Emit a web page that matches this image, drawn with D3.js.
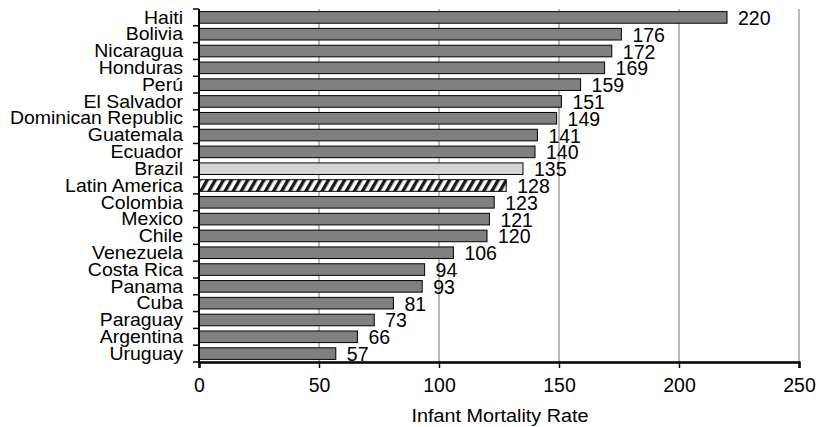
<!DOCTYPE html>
<html>
<head>
<meta charset="utf-8">
<script src="https://cdn.jsdelivr.net/npm/d3@7"></script>
<style>
  body { margin: 0; background: #fff; }
  svg { font-family: "Liberation Sans", Arial, Helvetica, sans-serif; }
</style>
</head>
<body>
<svg id="chart"></svg>
<script>
// Data
var countries = ["Haiti", "Bolivia", "Nicaragua", "Honduras", "Perú", "El Salvador",
  "Dominican Republic", "Guatemala", "Ecuador", "Brazil", "Latin America", "Colombia",
  "Mexico", "Chile", "Venezuela", "Costa Rica", "Panama", "Cuba", "Paraguay",
  "Argentina", "Uruguay"];
var rates = [220, 176, 172, 169, 159, 151, 149, 141, 140, 135, 128, 123, 121, 120,
  106, 94, 93, 81, 73, 66, 57];
var xTicks = [0, 50, 100, 150, 200, 250];

var data = countries.map(function(c, i) { return { name: c, value: rates[i] }; });

var fontSize = "19.5px";

var margin = { top: 9, right: 22, bottom: 65, left: 199 },
    width = 821 - margin.left - margin.right,
    height = 427 - margin.top - margin.bottom;

var root = d3.select("#chart")
    .attr("width", 821)
    .attr("height", 427);

// hatch pattern for Latin America
var defs = root.append("defs");
var pat = defs.append("pattern")
    .attr("id", "hatch")
    .attr("patternUnits", "userSpaceOnUse")
    .attr("width", 7)
    .attr("height", 7)
    .attr("patternTransform", "rotate(30)");
pat.append("rect").attr("width", 7).attr("height", 7).attr("fill", "#fff");
pat.append("rect").attr("width", 3.4).attr("height", 7).attr("fill", "#1a1a1a");

var svg = root.append("g")
    .attr("transform", "translate(" + margin.left + "," + margin.top + ")");

var x = d3.scaleLinear()
    .domain([0, 250])
    .range([0, width]);

var y = d3.scaleBand()
    .domain(countries)
    .range([0, height])
    .paddingInner(0.31)
    .paddingOuter(0.155);

// gridlines
svg.selectAll(".grid")
    .data(xTicks.slice(1))
    .enter().append("line")
    .attr("x1", function(d) { return x(d); })
    .attr("x2", function(d) { return x(d); })
    .attr("y1", 0)
    .attr("y2", height)
    .style("stroke", "#8c8c8c")
    .style("stroke-width", 1.2);

// bars
svg.selectAll(".bar")
    .data(data)
    .enter().append("rect")
    .attr("x", x(0))
    .attr("y", function(d) { return y(d.name); })
    .attr("width", function(d) { return x(d.value) - x(0); })
    .attr("height", y.bandwidth())
    .style("fill", function(d) {
        if (d.name === "Brazil") return "#d4d4d4";
        if (d.name === "Latin America") return "url(#hatch)";
        return "#808080";
    })
    .style("stroke", "#000")
    .style("stroke-width", 1);

// value labels
svg.selectAll(".val")
    .data(data)
    .enter().append("text")
    .attr("x", function(d) { return x(d.value) + 11; })
    .attr("y", function(d) { return y(d.name) + y.bandwidth() / 2 + 7.5; })
    .style("font-size", fontSize)
    .style("fill", "#000")
    .text(function(d) { return d.value; });

// y axis: ticks between categories
var step = y.step();
var yBoundaries = d3.range(countries.length + 1);
svg.selectAll(".ytick")
    .data(yBoundaries)
    .enter().append("line")
    .attr("x1", -6)
    .attr("x2", 0)
    .attr("y1", function(i) { return i * step; })
    .attr("y2", function(i) { return i * step; })
    .style("stroke", "#000")
    .style("stroke-width", 1.5);

svg.append("line")
    .attr("x1", 0).attr("x2", 0)
    .attr("y1", 0).attr("y2", height)
    .style("stroke", "#000")
    .style("stroke-width", 2);

// category labels: slightly short glyphs, stretched wide like the reference
svg.selectAll(".ylab")
    .data(countries)
    .enter().append("text")
    .attr("transform", function(d) {
        return "translate(-16," + (y(d) + y.bandwidth() / 2 + 6.2) + ") scale(1.1,1)";
    })
    .style("text-anchor", "end")
    .style("font-size", "17.7px")
    .text(function(d) { return d; });

// x axis
var xAxis = svg.append("g")
    .attr("transform", "translate(0," + height + ")")
    .call(d3.axisBottom(x).tickValues(xTicks).tickSize(6).tickPadding(10));
xAxis.select(".domain").style("stroke-width", 2.4);
xAxis.selectAll(".tick line").style("stroke-width", 1.5);
xAxis.selectAll("text")
    .style("font-size", fontSize)
    .style("font-family", "'Liberation Sans', Arial, sans-serif");

svg.append("text")
    .attr("transform", "translate(" + (width / 2 + 1) + "," + (height + 60) + ") scale(1.07,1)")
    .style("text-anchor", "middle")
    .style("font-size", "18.5px")
    .text("Infant Mortality Rate");
</script>
</body>
</html>
